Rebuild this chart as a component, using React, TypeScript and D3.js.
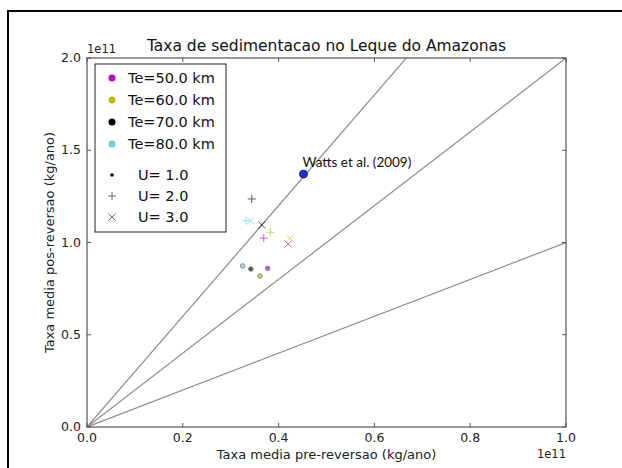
import React from 'react';
import * as d3 from 'd3';

// Te series (km) and U series
const teValues = [50, 60, 70, 80];
const uValues = [1.0, 2.0, 3.0];

// pre-reversal rate (x 1e11 kg/ano), rows = Te, cols = U
const preRate = [
  [0.377, 0.369, 0.420],
  [0.361, 0.383, 0.424],
  [0.342, 0.344, 0.365],
  [0.325, 0.332, 0.342],
];
// post-reversal rate (x 1e11 kg/ano)
const postRate = [
  [0.860, 1.024, 0.992],
  [0.818, 1.055, 1.023],
  [0.856, 1.236, 1.095],
  [0.873, 1.118, 1.118],
];

const wattsPre = 0.452;
const wattsPost = 1.371;
const ratioLines = [1, 2, 3];

const xTicks = [0, 0.2, 0.4, 0.6, 0.8, 1.0];
const yTicks = [0, 0.5, 1.0, 1.5, 2.0];

const teColors = ['#bf00bf', '#bfbf00', '#000000', '#70d0e0'];
const uMarkers = ['dot', 'plus', 'x'];

const Marker = ({ kind, x, y, color, alpha = 1 }: { kind: string; x: number; y: number; color: string; alpha?: number }) => {
  if (kind === 'dot')
    return <circle cx={x} cy={y} r={2.3} fill={color} stroke="#333" strokeWidth={0.8} opacity={alpha} />;
  if (kind === 'plus')
    return (
      <g stroke={color} strokeWidth={1} opacity={alpha}>
        <line x1={x - 4} x2={x + 4} y1={y} y2={y} />
        <line x1={x} x2={x} y1={y - 4} y2={y + 4} />
      </g>
    );
  return (
    <g stroke={color} strokeWidth={1} opacity={alpha}>
      <line x1={x - 3.5} x2={x + 3.5} y1={y - 3.5} y2={y + 3.5} />
      <line x1={x - 3.5} x2={x + 3.5} y1={y + 3.5} y2={y - 3.5} />
    </g>
  );
};

export default function App() {
  const width = 622;
  const height = 468;
  const left = 87, right = 566, top = 58, bottom = 427;

  const x = d3.scaleLinear().domain([0, 1]).range([left, right]);
  const y = d3.scaleLinear().domain([0, 2]).range([bottom, top]);

  const font = 'DejaVu Sans, sans-serif';

  return (
    <svg width={width} height={height} style={{ position: 'absolute', left: 0, top: 0, background: '#fff' }} fontFamily={font}>
      {/* outer frame */}
      <rect x={8} y={11} width={width} height={height} fill="none" stroke="#000" strokeWidth={2} />

      <clipPath id="plot">
        <rect x={left} y={top} width={right - left} height={bottom - top} />
      </clipPath>

      {/* ratio lines */}
      <g clipPath="url(#plot)">
        {ratioLines.map(r => (
          <line key={r} x1={x(0)} y1={y(0)} x2={x(1)} y2={y(r)} stroke="#8c8c8c" strokeWidth={1.2} />
        ))}
      </g>

      {/* data */}
      {teValues.map((te, i) =>
        uValues.map((u, j) => (
          <Marker key={`${te}-${u}`} kind={uMarkers[j]} x={x(preRate[i][j])} y={y(postRate[i][j])} color={teColors[i]} alpha={0.65} />
        ))
      )}

      {/* Watts */}
      <circle cx={x(wattsPre)} cy={y(wattsPost)} r={4} fill="#1f2fd8" stroke="#0a1580" strokeWidth={0.8} />
      <text x={x(wattsPre) - 1} y={y(wattsPost) - 7} fontSize={13.5} fontFamily="Lato, Carlito, sans-serif" fill="#111">Watts et al. (2009)</text>

      {/* axes frame */}
      <rect x={left} y={top} width={right - left} height={bottom - top} fill="none" stroke="#555" strokeWidth={1.2} />

      {/* ticks */}
      {xTicks.map(t => (
        <g key={`x${t}`}>
          <line x1={x(t)} x2={x(t)} y1={bottom} y2={bottom - 4} stroke="#555" />
          <line x1={x(t)} x2={x(t)} y1={top} y2={top + 4} stroke="#555" />
          <text x={x(t)} y={bottom + 15} textAnchor="middle" fontSize={12.5} fill="#222">{t.toFixed(1)}</text>
        </g>
      ))}
      {yTicks.map(t => (
        <g key={`y${t}`}>
          <line x1={left} x2={left + 4} y1={y(t)} y2={y(t)} stroke="#555" />
          <line x1={right} x2={right - 4} y1={y(t)} y2={y(t)} stroke="#555" />
          <text x={left - 6} y={y(t) + 4} textAnchor="end" fontSize={12.5} fill="#222">{t.toFixed(1)}</text>
        </g>
      ))}

      <text x={left} y={53} fontSize={11.5} fill="#222">1e11</text>
      <text x={right} y={458} textAnchor="end" fontSize={11.5} fill="#222">1e11</text>

      {/* title and labels */}
      <text x={(left + right) / 2} y={51} textAnchor="middle" fontSize={15.5} fill="#111">Taxa de sedimentacao no Leque do Amazonas</text>
      <text x={(left + right) / 2} y={459} textAnchor="middle" fontSize={13} fill="#222">Taxa media pre-reversao (kg/ano)</text>
      <text transform={`translate(54,${(top + bottom) / 2}) rotate(-90)`} textAnchor="middle" fontSize={13} fill="#222">Taxa media pos-reversao (kg/ano)</text>

      {/* legend */}
      <g>
        <rect x={95} y={64} width={131} height={168} fill="#fff" stroke="#222" strokeWidth={1} />
        {teValues.map((te, i) => (
          <g key={`lt${te}`}>
            <circle cx={112} cy={78 + i * 22} r={3.5} fill={teColors[i]} />
            <text x={128} y={83 + i * 22} fontSize={14.5} fill="#111">{`Te=${te.toFixed(1)} km`}</text>
          </g>
        ))}
        {uValues.map((u, j) => (
          <g key={`lu${u}`}>
            {j === 0
              ? <circle cx={112} cy={175} r={1.8} fill="#111" />
              : <Marker kind={uMarkers[j]} x={112} y={175 + j * 21} color="#666" />}
            <text x={138} y={180 + j * 21} fontSize={14.5} fill="#111">{`U= ${u.toFixed(1)}`}</text>
          </g>
        ))}
      </g>
    </svg>
  );
}
